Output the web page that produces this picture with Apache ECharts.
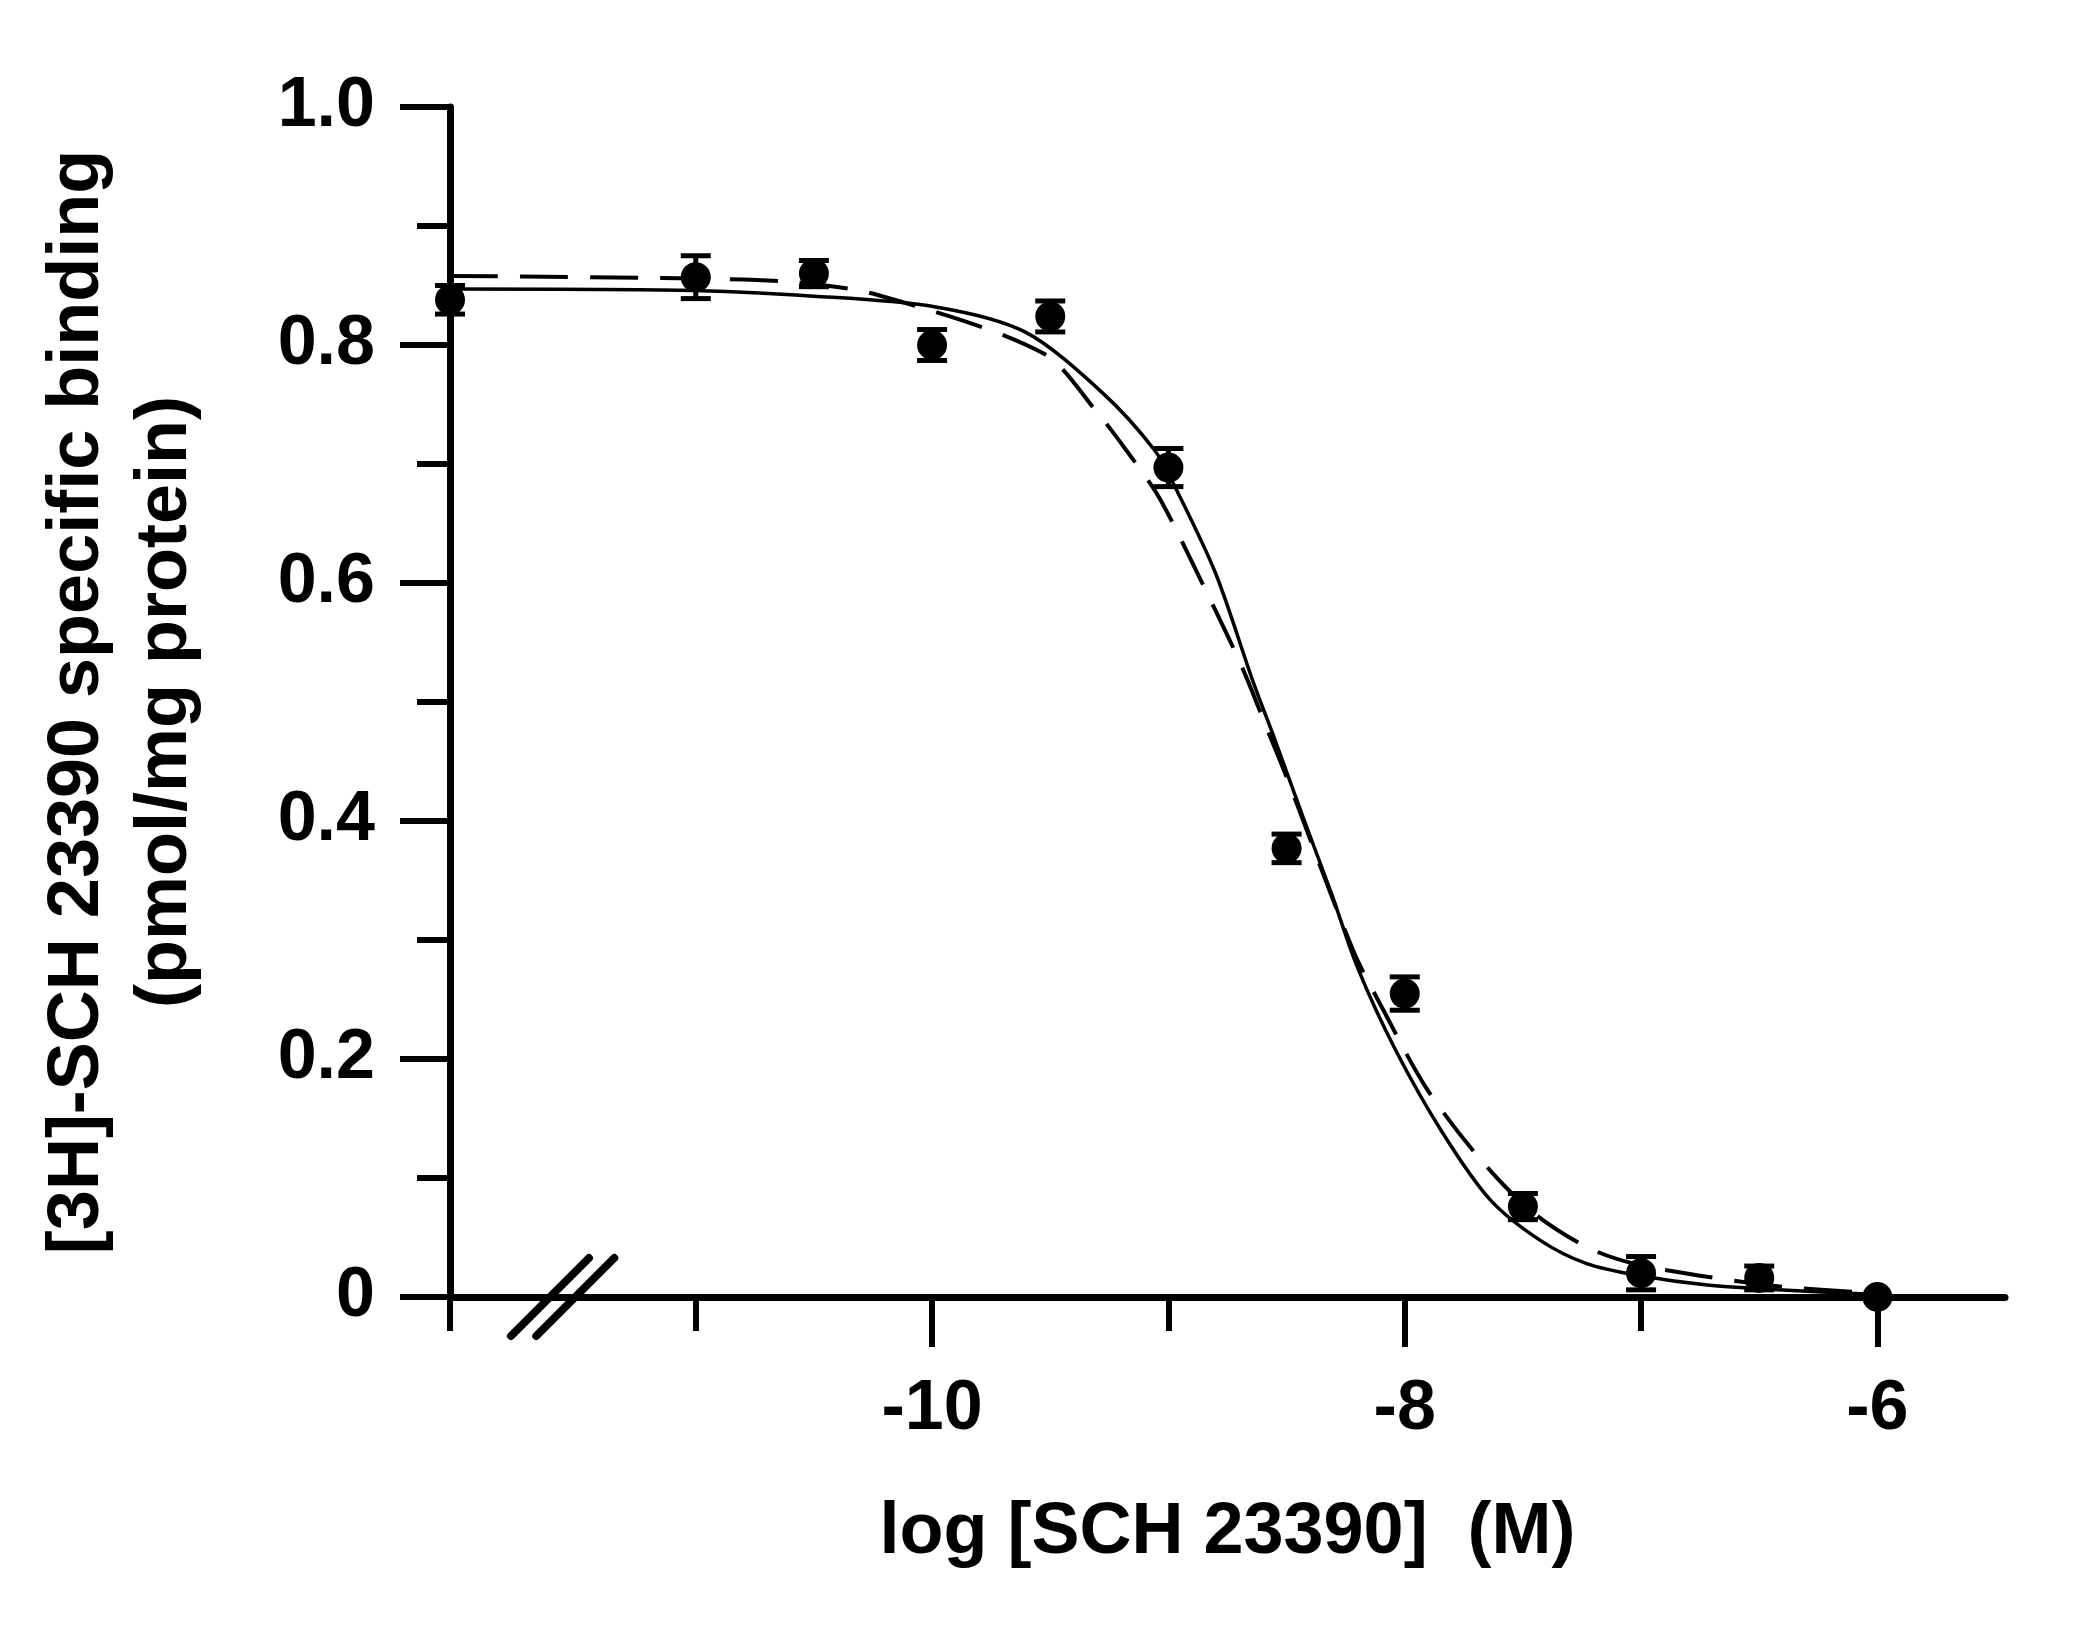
<!DOCTYPE html>
<html>
<head>
<meta charset="utf-8">
<script src="https://cdn.jsdelivr.net/npm/echarts@6/dist/echarts.min.js"></script>
<style>html,body{margin:0;padding:0;background:#fff}#c{width:2100px;height:1638px}</style>
</head>
<body>
<div id="c"></div>
<script>
// ---- data ----
const X_MIN = -12.04, X_MAX = -5.46;
const majorTicksX = [-10, -8, -6];
const minorTicksX = [-12.04, -11, -9, -7];
const pointsX   = [-12.04, -11, -10.5, -10, -9.5, -9, -8.5, -8, -7.5, -7, -6.5, -6];
const pointsY   = [0.838, 0.857, 0.860, 0.800, 0.824, 0.697, 0.377, 0.255, 0.076, 0.020, 0.016, 0.000];
const pointsErr = [0.012, 0.018, 0.011, 0.013, 0.013, 0.016, 0.012, 0.014, 0.011, 0.014, 0.010, 0.000];
const solidFitX = [-12.04, -11.07, -10.50, -9.985, -9.607, -9.28, -9.06, -8.97, -8.80, -8.64, -8.56, -8.43, -8.31, -8.20, -8.04, -7.84, -7.64, -7.43, -7.23, -7.01, -6.72, -6.42, -6.0];
const solidFitY = [0.847, 0.846, 0.841, 0.832, 0.811, 0.760, 0.712, 0.680, 0.608, 0.516, 0.474, 0.403, 0.339, 0.277, 0.208, 0.138, 0.082, 0.048, 0.028, 0.018, 0.010, 0.006, 0.002];
const dashedFitX = [-12.04, -11.07, -10.6, -10.23, -9.53, -9.30, -9.18, -9.04, -8.85, -8.69, -8.58, -8.50, -8.22, -8.09, -7.91, -7.69, -7.47, -7.23, -7.03, -6.72, -6.42, -6.0];
const dashedFitY = [0.858, 0.856, 0.853, 0.842, 0.793, 0.743, 0.712, 0.672, 0.597, 0.530, 0.476, 0.437, 0.292, 0.241, 0.176, 0.118, 0.073, 0.042, 0.028, 0.017, 0.009, 0.003];
const BREAK_X = [-11.617, -11.51];
const xTitle = 'log [SCH 23390]  (M)';
const yTitle = '[3H]-SCH 23390 specific binding\n(pmol/mg protein)';

const FONT = 'Liberation Sans, Arial, sans-serif';
const zip = (a, b) => a.map((v, i) => [v, b[i]]);

const chart = echarts.init(document.getElementById('c'), null, {renderer: 'canvas'});
const axisLineStyle = {color: '#000', width: 7};
const option = {
  backgroundColor: '#fff',
  animation: false,
  grid: {left: 450, right: 95, top: 107, bottom: 341, containLabel: false},
  xAxis: [{
    type: 'value', min: X_MIN, max: X_MAX, position: 'bottom',
    axisLine: {show: true, onZero: false, lineStyle: axisLineStyle},
    axisTick: {show: true, customValues: majorTicksX, length: 50, lineStyle: {color: '#000', width: 6}},
    axisLabel: {show: true, customValues: majorTicksX, margin: 78, color: '#000', fontSize: 70, fontWeight: 'bold', fontFamily: FONT},
    splitLine: {show: false},
    name: xTitle, nameLocation: 'middle', nameGap: 200,
    nameTextStyle: {color: '#000', fontSize: 72, fontWeight: 'bold', fontFamily: FONT}
  }, {
    type: 'value', min: X_MIN, max: X_MAX, position: 'bottom',
    axisLine: {show: false, onZero: false},
    axisTick: {show: true, customValues: minorTicksX, length: 34, lineStyle: {color: '#000', width: 6}},
    axisLabel: {show: false},
    splitLine: {show: false}
  }],
  yAxis: {
    type: 'value', min: 0, max: 1.0, interval: 0.2,
    axisLine: {show: true, onZero: false, lineStyle: axisLineStyle},
    axisTick: {show: true, length: 50, lineStyle: {color: '#000', width: 6}},
    minorTick: {show: true, splitNumber: 2, length: 33, lineStyle: {color: '#000', width: 6}},
    axisLabel: {margin: 75, color: '#000', fontSize: 70, fontWeight: 'bold', fontFamily: FONT,
      formatter: v => v === 0 ? '0' : v.toFixed(1)},
    splitLine: {show: false},
    name: yTitle, nameLocation: 'middle', nameRotate: 90, nameGap: 240,
    nameTextStyle: {color: '#000', fontSize: 72, fontWeight: 'bold', fontFamily: FONT, lineHeight: 88, align: 'center'}
  },
  series: [
    {
      type: 'line', xAxisIndex: 0, data: zip(solidFitX, solidFitY), showSymbol: false, symbol: 'none',
      smooth: 0.3, lineStyle: {color: '#000', width: 3.5}, z: 3
    },
    {
      type: 'line', xAxisIndex: 0, data: zip(dashedFitX, dashedFitY), showSymbol: false, symbol: 'none',
      smooth: 0.3, lineStyle: {color: '#000', width: 4, type: [48, 22]}, z: 3
    },
    {
      type: 'custom', xAxisIndex: 0, z: 4,
      data: pointsX.map((x, i) => [x, pointsY[i], pointsErr[i]]),
      renderItem: function (params, api) {
        const x = api.value(0), y = api.value(1), e = api.value(2);
        if (!e) return {type: 'group', children: []};
        const t = api.coord([x, y + e]), b = api.coord([x, y - e]);
        const hw = 15;
        const st = {stroke: '#000', lineWidth: 5};
        return {type: 'group', children: [
          {type: 'line', shape: {x1: t[0], y1: t[1], x2: b[0], y2: b[1]}, style: st},
          {type: 'line', shape: {x1: t[0] - hw, y1: t[1], x2: t[0] + hw, y2: t[1]}, style: st},
          {type: 'line', shape: {x1: b[0] - hw, y1: b[1], x2: b[0] + hw, y2: b[1]}, style: st}
        ]};
      }
    },
    {
      type: 'scatter', xAxisIndex: 0, data: zip(pointsX, pointsY), symbol: 'circle', symbolSize: 30,
      itemStyle: {color: '#000', opacity: 1}, z: 5
    }
  ]
};
chart.setOption(option);

// axis break mark "//" placed at data positions on the x axis
const h = 39;
const breakGraphics = BREAK_X.map(bx => {
  const p = chart.convertToPixel({xAxisIndex: 0, yAxisIndex: 0}, [bx, 0]);
  return {type: 'line', shape: {x1: p[0] - h, y1: p[1] + h, x2: p[0] + h, y2: p[1] - h},
    style: {stroke: '#000', lineWidth: 8, lineCap: 'round'}, z: 10};
});
chart.setOption({graphic: breakGraphics});
</script>
</body>
</html>
